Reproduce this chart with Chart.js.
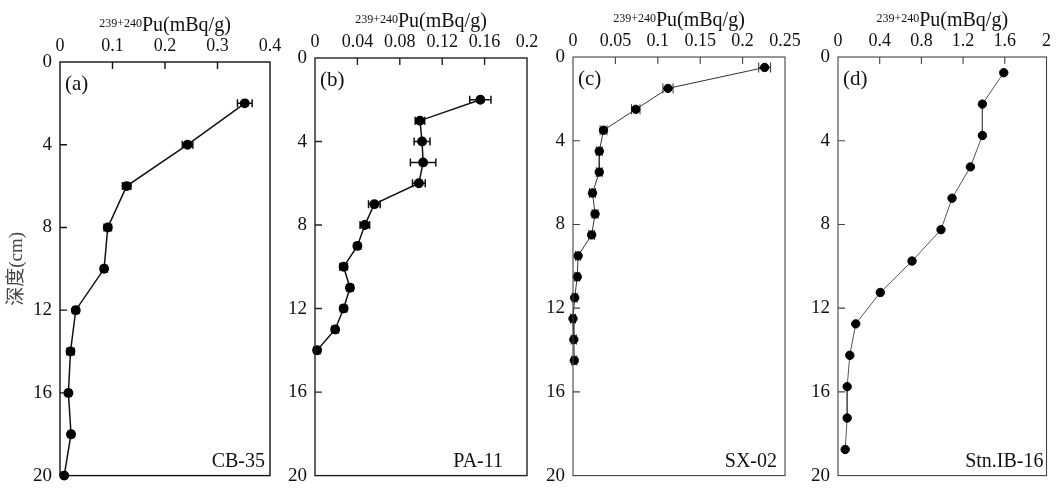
<!DOCTYPE html>
<html lang="zh-CN">
<head>
<meta charset="UTF-8">
<title>239+240Pu 深度剖面</title>
<script src="https://cdn.jsdelivr.net/npm/chart.js"></script>
<style>
    body { margin: 0; background: #fff; overflow: hidden; }
    #wrap { position: relative; width: 1056px; height: 495px; }
    .panel { position: absolute; top: 0; height: 495px; }
</style>
</head>
<body>
<div id="wrap"></div>
<script>
// ---- data ----
const depthTicks = [0, 4, 8, 12, 16, 20];
const depthLabels = ['0', '4', '8', '12', '16', '20'];

// (a) CB-35
const depthA = [2, 4, 6, 8, 10, 12, 14, 16, 18, 20];
const puA = [0.352, 0.243, 0.127, 0.091, 0.084, 0.030, 0.020, 0.016, 0.021, 0.008];
const errA = [0.014, 0.010, 0.008, 0.007, 0.006, 0.006, 0.007, 0.005, 0.005, 0.004];
const xTicksA = [0, 0.1, 0.2, 0.3, 0.4];
const xLabelsA = ['0', '0.1', '0.2', '0.3', '0.4'];

// (b) PA-11
const depthB = [2, 3, 4, 5, 6, 7, 8, 9, 10, 11, 12, 13, 14];
const puB = [0.156, 0.099, 0.101, 0.102, 0.098, 0.056, 0.047, 0.040, 0.027, 0.033, 0.027, 0.019, 0.002];
const errB = [0.010, 0.0045, 0.0075, 0.012, 0.006, 0.0055, 0.0045, 0.003, 0.0035, 0.003, 0.003, 0.003, 0.003];
const xTicksB = [0, 0.04, 0.08, 0.12, 0.16, 0.2];
const xLabelsB = ['0', '0.04', '0.08', '0.12', '0.16', '0.2'];

// (c) SX-02
const depthC = [0.5, 1.5, 2.5, 3.5, 4.5, 5.5, 6.5, 7.5, 8.5, 9.5, 10.5, 11.5, 12.5, 13.5, 14.5];
const puC = [0.226, 0.112, 0.074, 0.036, 0.031, 0.031, 0.023, 0.026, 0.022, 0.006, 0.005, 0.002, 0.000, 0.001, 0.0015];
const errC = [0.007, 0.006, 0.005, 0.004, 0.0035, 0.0035, 0.0035, 0.0035, 0.0035, 0.003, 0.003, 0.003, 0.003, 0.003, 0.003];
const xTicksC = [0, 0.05, 0.1, 0.15, 0.2, 0.25];
const xLabelsC = ['0', '0.05', '0.1', '0.15', '0.2', '0.25'];

// (d) Stn.IB-16 (no error bars)
const depthD = [0.75, 2.25, 3.75, 5.25, 6.75, 8.25, 9.75, 11.25, 12.75, 14.25, 15.75, 17.25, 18.75];
const puD = [1.59, 1.385, 1.385, 1.27, 1.094, 0.988, 0.71, 0.406, 0.17, 0.113, 0.088, 0.088, 0.069];
const xTicksD = [0, 0.4, 0.8, 1.2, 1.6, 2];
const xLabelsD = ['0', '0.4', '0.8', '1.2', '1.6', '2'];

const titleSup = '239+240';
const titleMain = 'Pu(mBq/g)';
const yTitle = '深度(cm)';

const SERIF = '"Liberation Serif", "Times New Roman", serif';

// layout of each panel (plot box in page pixels) and styling
const panels = [
    { tag: '(a)', name: 'CB-35', depth: depthA, pu: puA, err: errA, xTicks: xTicksA, xLabels: xLabelsA,
      area: { left: 60, right: 270, top: 62, bottom: 483 }, nameDx: 5, yTitle: true,
      line: '#111', lw: 1.5, box: '#111', boxW: 1.4, cap: 4 },
    { tag: '(b)', name: 'PA-11', depth: depthB, pu: puB, err: errB, xTicks: xTicksB, xLabels: xLabelsB,
      area: { left: 315, right: 527, top: 58, bottom: 483 }, nameDx: 24,
      line: '#111', lw: 1.5, box: '#222', boxW: 1.4, cap: 4 },
    { tag: '(c)', name: 'SX-02', depth: depthC, pu: puC, err: errC, xTicks: xTicksC, xLabels: xLabelsC,
      area: { left: 573, right: 785, top: 57, bottom: 480 }, nameDx: 8,
      line: '#333', lw: 1, box: '#444', boxW: 1.1, cap: 5 },
    { tag: '(d)', name: 'Stn.IB-16', depth: depthD, pu: puD, err: null, xTicks: xTicksD, xLabels: xLabelsD,
      area: { left: 838, right: 1050, top: 57, bottom: 479 }, nameDx: 3,
      line: '#555', lw: 1, box: '#444', boxW: 1.1, cap: 4 }
];

// draws the closed frame, inward tick marks, error bars and the in-plot texts
function makeDecor(p) {
    return {
        id: 'decor',
        beforeDatasetsDraw(chart) {
            if (!p.err) return;
            const ctx = chart.ctx, xs = chart.scales.x, ys = chart.scales.y;
            ctx.save();
            ctx.strokeStyle = p.line;
            ctx.lineWidth = p.lw;
            p.pu.forEach((v, i) => {
                const y = ys.getPixelForValue(p.depth[i]);
                const x1 = xs.getPixelForValue(v - p.err[i]);
                const x2 = xs.getPixelForValue(v + p.err[i]);
                ctx.beginPath();
                ctx.moveTo(x1, y); ctx.lineTo(x2, y);
                ctx.moveTo(x1, y - p.cap); ctx.lineTo(x1, y + p.cap);
                ctx.moveTo(x2, y - p.cap); ctx.lineTo(x2, y + p.cap);
                ctx.stroke();
            });
            ctx.restore();
        },
        afterDraw(chart) {
            const ctx = chart.ctx, a = chart.chartArea;
            const xs = chart.scales.x, ys = chart.scales.y;
            ctx.save();
            ctx.strokeStyle = p.box;
            ctx.lineWidth = p.boxW;
            ctx.strokeRect(a.left, a.top, a.right - a.left, a.bottom - a.top);

            // inward ticks
            ctx.beginPath();
            p.xTicks.slice(1, -1).forEach(v => {
                const x = xs.getPixelForValue(v);
                ctx.moveTo(x, a.top); ctx.lineTo(x, a.top + 7);
            });
            depthTicks.slice(1, -1).forEach(v => {
                const y = ys.getPixelForValue(v);
                ctx.moveTo(a.left, y); ctx.lineTo(a.left + 7, y);
            });
            ctx.stroke();

            // axis title with superscript
            const cx = (a.left + a.right) / 2, base = a.top - 31;
            ctx.fillStyle = '#111';
            ctx.textBaseline = 'alphabetic';
            ctx.textAlign = 'left';
            ctx.font = '12px ' + SERIF;
            const w1 = ctx.measureText(titleSup).width;
            ctx.font = '20px ' + SERIF;
            const w2 = ctx.measureText(titleMain).width;
            let x = cx - (w1 + w2) / 2;
            ctx.font = '12px ' + SERIF;
            ctx.fillText(titleSup, x, base - 4);
            ctx.font = '20px ' + SERIF;
            ctx.fillText(titleMain, x + w1, base);

            // panel tag and station name
            ctx.font = '21px ' + SERIF;
            ctx.textBaseline = 'middle';
            ctx.fillText(p.tag, a.left + 5, a.top + 22);
            ctx.font = '20px ' + SERIF;
            ctx.textAlign = 'right';
            ctx.fillText(p.name, a.right - p.nameDx, a.bottom - 14);
            ctx.restore();
        }
    };
}

const wrap = document.getElementById('wrap');

panels.forEach(p => {
    const yW = p.yTitle ? 60 : 45;
    const left = p.area.left - yW;
    const padR = Math.min(22, 1056 - p.area.right);
    const width = p.area.right + padR - left;

    const div = document.createElement('div');
    div.className = 'panel';
    div.style.left = left + 'px';
    div.style.width = width + 'px';
    const cv = document.createElement('canvas');
    div.appendChild(cv);
    wrap.appendChild(div);

    new Chart(cv, {
        type: 'scatter',
        data: {
            datasets: [{
                data: p.pu.map((v, i) => ({ x: v, y: p.depth[i] })),
                showLine: true,
                borderColor: p.line,
                borderWidth: p.lw,
                pointBackgroundColor: '#000',
                pointBorderColor: '#000',
                pointRadius: 4.2,
                pointHoverRadius: 4.2,
                clip: false
            }]
        },
        options: {
            responsive: true,
            maintainAspectRatio: false,
            animation: false,
            events: [],
            layout: { padding: { left: 0, top: 0, right: padR, bottom: 495 - p.area.bottom } },
            plugins: { legend: { display: false }, tooltip: { enabled: false } },
            scales: {
                x: {
                    type: 'linear',
                    position: 'top',
                    min: p.xTicks[0],
                    max: p.xTicks[p.xTicks.length - 1],
                    afterBuildTicks: s => { s.ticks = p.xTicks.map(v => ({ value: v })); },
                    afterFit: s => { s.height = p.area.top; },
                    ticks: {
                        callback: (v, i) => p.xLabels[i],
                        autoSkip: false,
                        maxRotation: 0,
                        padding: 5,
                        color: '#111',
                        font: { family: SERIF, size: 18 }
                    },
                    grid: { display: false, drawTicks: false },
                    border: { display: false }
                },
                y: {
                    type: 'linear',
                    reverse: true,
                    min: 0,
                    max: 20,
                    afterBuildTicks: s => { s.ticks = depthTicks.map(v => ({ value: v })); },
                    afterFit: s => { s.width = yW; },
                    ticks: {
                        callback: (v, i) => depthLabels[i],
                        autoSkip: false,
                        padding: 8,
                        color: '#111',
                        font: { family: SERIF, size: 19 }
                    },
                    grid: { display: false, drawTicks: false },
                    border: { display: false },
                    title: {
                        display: !!p.yTitle,
                        text: yTitle,
                        color: '#444',
                        padding: { top: 6, bottom: 0 },
                        font: { family: SERIF + ', "Noto Sans CJK SC"', size: 19 }
                    }
                }
            }
        },
        plugins: [makeDecor(p)]
    });
});
</script>
</body>
</html>
